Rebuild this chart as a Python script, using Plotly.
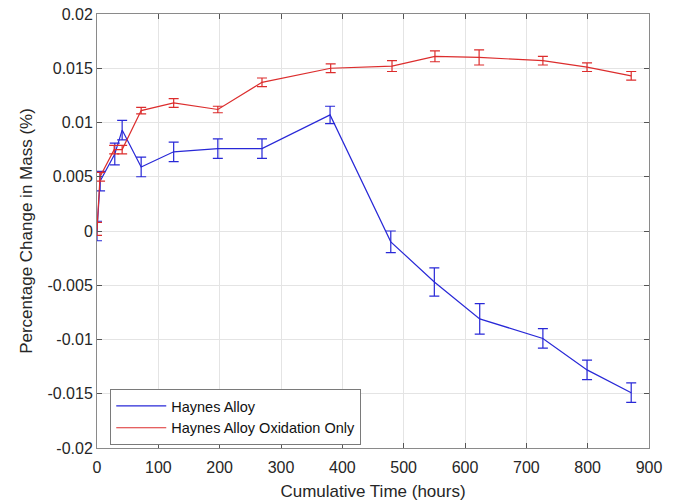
import plotly.graph_objects as go

# Data
time_alloy = [0, 5, 29, 41, 72, 125, 197, 269, 380, 479, 550, 624, 727, 799, 871]
mass_alloy = [0.0000, 0.0046, 0.0071, 0.0093, 0.0059, 0.0073, 0.0076, 0.0076, 0.0107,
              -0.0010, -0.0047, -0.0081, -0.0099, -0.0128, -0.0149]
err_alloy = [0.0009, 0.0009, 0.0010, 0.0009, 0.0009, 0.0009, 0.0009, 0.0009, 0.0008,
             0.0010, 0.0013, 0.0014, 0.0009, 0.0009, 0.0009]

time_ox = [0, 5, 28, 41, 72, 125, 197, 269, 381, 481, 551, 623, 727, 799, 871]
mass_ox = [0.0002, 0.0050, 0.0075, 0.0075, 0.0111, 0.0118, 0.0112, 0.0137, 0.0150,
           0.0152, 0.0161, 0.0160, 0.0157, 0.0151, 0.0143]
err_ox = [0.0006, 0.0004, 0.0004, 0.0004, 0.0003, 0.0004, 0.0003, 0.0004, 0.0004,
          0.0005, 0.0005, 0.0007, 0.0004, 0.0004, 0.0004]

x_ticks = [0, 100, 200, 300, 400, 500, 600, 700, 800, 900]
y_ticks = [-0.02, -0.015, -0.01, -0.005, 0, 0.005, 0.01, 0.015, 0.02]
y_labels = ["-0.02", "-0.015", "-0.01", "-0.005", "0", "0.005", "0.01", "0.015", "0.02"]

blue = "rgb(40,40,215)"
red = "rgb(220,45,45)"

fig = go.Figure()
fig.add_trace(go.Scatter(
    x=time_alloy, y=mass_alloy, mode="lines", name="Haynes Alloy",
    line=dict(color=blue, width=1.2),
    error_y=dict(type="data", array=err_alloy, color=blue, thickness=1.2, width=5),
))
fig.add_trace(go.Scatter(
    x=time_ox, y=mass_ox, mode="lines", name="Haynes Alloy Oxidation Only",
    line=dict(color=red, width=1.2),
    error_y=dict(type="data", array=err_ox, color=red, thickness=1.2, width=5),
))

axis_common = dict(
    showline=True, linecolor="#8a8a8a", linewidth=1, mirror="ticks",
    ticks="inside", ticklen=5, tickcolor="#555555",
    showgrid=True, gridcolor="#e4e4e4", gridwidth=1, zeroline=False,
    automargin=False, ticklabeloverflow="allow",
    tickfont=dict(family="Liberation Sans, Arial, sans-serif", size=16, color="#262626"),
)

fig.update_layout(
    width=673, height=501,
    margin=dict(l=97, r=24, t=14, b=53, autoexpand=False),
    paper_bgcolor="white", plot_bgcolor="white",
    font=dict(family="Liberation Sans, Arial, sans-serif", color="#262626"),
    xaxis=dict(range=[0, 900], tickvals=x_ticks, ticklabelstandoff=5,
               title=dict(text="Cumulative Time (hours)", font=dict(size=17), standoff=9),
               **axis_common),
    yaxis=dict(range=[-0.02, 0.02], tickvals=y_ticks, ticktext=y_labels,
               title=dict(text="Percentage Change in Mass (%)", font=dict(size=17), standoff=10),
               **axis_common),
    legend=dict(x=0.024, y=0.136, xanchor="left", yanchor="top",
                bgcolor="white", bordercolor="#7a7a7a", borderwidth=1,
                font=dict(size=14.5, color="#111111"), tracegroupgap=0,
                itemwidth=50),
    showlegend=True,
)

# remove the default 8px page margin so the figure fills the window exactly
fig.write_html("out.html", config={"displayModeBar": False},
               post_script="document.body.style.margin='0';")
